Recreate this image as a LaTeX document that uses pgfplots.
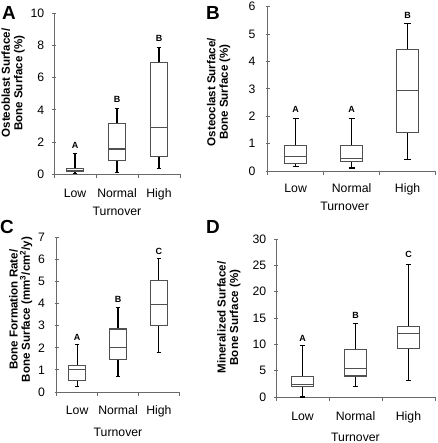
\documentclass[border=0pt]{standalone}
\usepackage{fontspec}
\setmainfont{Liberation Sans}
\usepackage{pgfplots}
\pgfplotsset{compat=1.18}
\usepgfplotslibrary{statistics}
\definecolor{boxgray}{RGB}{80,80,80}
\definecolor{axgray}{RGB}{105,105,105}
\tikzset{lett/.style={font=\bfseries\fontsize{9}{10}\selectfont, inner sep=0pt}}
\pgfplotsset{
  panel/.style={
    scale only axis,
    anchor=south west,
    axis lines*=left,
    axis line style={draw=axgray, line width=0.9bp, -},
    xtick pos=bottom, ytick pos=left,
    xmin=0, xmax=3, ymin=0,
    xtick={0,1,2,3}, xticklabels={},
    extra x ticks={0.5,1.5,2.5},
    extra x tick labels={Low,Normal,High},
    extra x tick style={major tick length=0pt},
    xtick align=outside, ytick align=center,
    major tick length=4bp,
    tick style={draw=axgray, line width=0.9bp},
    tick label style={font=\fontsize{12.3}{14}\selectfont},
    /pgf/number format/assume math mode=true,
    xlabel={Turnover},
    xlabel style={font=\fontsize{12.3}{14}\selectfont, anchor=base},
    ylabel style={font=\bfseries\fontsize{11.6}{12.5}\selectfont, align=center, anchor=center},
    yticklabel style={anchor=east, inner sep=0pt},
    boxplot/draw direction=y,
    boxplot/every box/.style={draw=boxgray, line width=1.05bp},
    boxplot/every whisker/.style={draw=black, line width=1.05bp},
    boxplot/every median/.style={draw=boxgray, line width=1.05bp},
    boxplot/box extend=0.4,
    boxplot/whisker extend=0.11,
    clip=false,
  },
}
\begin{document}
\begin{tikzpicture}
\useasboundingbox (0,0) rectangle (438bp,443bp);
% Panel A
\begin{axis}[panel, at={(54bp,268.7bp)}, width=126bp, height=161bp,
  ymax=10, ytick={0,2,4,6,8,10},
  yticklabel style={xshift=-7.5bp},
  xticklabel style={anchor=base, yshift=-23bp},
  xlabel style={at={(axis description cs:0.5,0)}, yshift=-41bp},
  ylabel={Osteoblast Surface/\\Bone Surface (\%)},
  ylabel style={at={(axis description cs:-0.325,0.567)}}]
\addplot[boxplot prepared={draw position=0.5, lower whisker=0.06, lower quartile=0.15, median=0.25, upper quartile=0.35, upper whisker=1.32}] coordinates {};
\addplot[boxplot prepared={draw position=1.5, lower whisker=0.1, lower quartile=0.85, median=1.57, upper quartile=3.15, upper whisker=4.1}] coordinates {};
\addplot[boxplot prepared={draw position=2.5, lower whisker=0.35, lower quartile=1.12, median=2.88, upper quartile=6.96, upper whisker=7.89}] coordinates {};
\node[lett] at (axis cs:0.5,1.8) {A};
\node[lett] at (axis cs:1.5,4.66) {B};
\node[lett] at (axis cs:2.5,8.43) {B};
\end{axis}
% Panel B
\begin{axis}[panel, at={(267.7bp,272bp)}, width=167.8bp, height=164.3bp,
  ymax=6, ytick={0,1,2,3,4,5,6},
  yticklabel style={xshift=-10bp},
  xticklabel style={anchor=base, yshift=-21.5bp},
  xlabel style={at={(axis description cs:0.458,0)}, yshift=-40bp},
  ylabel={Osteoclast Surface/\\Bone Surface (\%)},
  ylabel style={at={(axis description cs:-0.292,0.48)}}]
\addplot[boxplot prepared={draw position=0.5, lower whisker=0.18, lower quartile=0.26, median=0.52, upper quartile=0.94, upper whisker=1.92}] coordinates {};
\addplot[boxplot prepared={draw position=1.5, lower whisker=0.11, lower quartile=0.33, median=0.46, upper quartile=0.94, upper whisker=1.92}] coordinates {};
\addplot[boxplot prepared={draw position=2.5, lower whisker=0.43, lower quartile=1.42, median=2.94, upper quartile=4.43, upper whisker=5.4}] coordinates {};
\node[lett] at (axis cs:0.5,2.26) {A};
\node[lett] at (axis cs:1.5,2.26) {A};
\node[lett] at (axis cs:2.5,5.67) {B};
\end{axis}
% Panel C
\begin{axis}[panel, at={(56.7bp,51bp)}, width=122.6bp, height=154.7bp,
  ymax=7, ytick={0,1,2,3,4,5,6,7},
  yticklabel style={xshift=-9.5bp},
  xticklabel style={anchor=base, yshift=-22.5bp},
  xlabel style={at={(axis description cs:0.5,0)}, yshift=-44.5bp},
  ylabel={Bone Formation Rate/\\Bone Surface (mm\textsuperscript{3}/cm\textsuperscript{2}/y)},
  ylabel style={at={(axis description cs:-0.293,0.533)}}]
\addplot[boxplot prepared={draw position=0.5, lower whisker=0.27, lower quartile=0.53, median=1.01, upper quartile=1.22, upper whisker=2.17}] coordinates {};
\addplot[boxplot prepared={draw position=1.5, lower whisker=0.69, lower quartile=1.45, median=2.0, upper quartile=2.85, upper whisker=3.82}] coordinates {};
\addplot[boxplot prepared={draw position=2.5, lower whisker=1.78, lower quartile=3.03, median=3.97, upper quartile=5.05, upper whisker=6.03}] coordinates {};
\node[lett] at (axis cs:0.5,2.47) {A};
\node[lett] at (axis cs:1.5,4.19) {B};
\node[lett] at (axis cs:2.5,6.38) {C};
\end{axis}
% Panel D
\begin{axis}[panel, at={(276bp,46bp)}, width=159bp, height=158bp,
  ymax=30, ytick={0,5,10,15,20,25,30},
  yticklabel style={xshift=-7.5bp},
  xticklabel style={anchor=base, yshift=-23.5bp},
  xlabel style={at={(axis description cs:0.5,0)}, yshift=-44bp},
  ylabel={Mineralized Surface/\\Bone Surface (\%)},
  ylabel style={at={(axis description cs:-0.296,0.503)}}]
\addplot[boxplot prepared={draw position=0.5, lower whisker=0.0, lower quartile=2.05, median=2.3, upper quartile=3.85, upper whisker=9.75}] coordinates {};
\addplot[boxplot prepared={draw position=1.5, lower whisker=2.03, lower quartile=3.99, median=5.5, upper quartile=9.05, upper whisker=13.9}] coordinates {};
\addplot[boxplot prepared={draw position=2.5, lower whisker=3.16, lower quartile=9.24, median=12.0, upper quartile=13.35, upper whisker=25.2}] coordinates {};
\node[lett] at (axis cs:0.5,11.2) {A};
\node[lett] at (axis cs:1.5,15.4) {B};
\node[lett] at (axis cs:2.5,27) {C};
\end{axis}
\node[font=\bfseries\fontsize{19}{20}\selectfont] at (9bp,430bp) {A};
\node[font=\bfseries\fontsize{19}{20}\selectfont] at (213bp,430bp) {B};
\node[font=\bfseries\fontsize{19}{20}\selectfont] at (7bp,216bp) {C};
\node[font=\bfseries\fontsize{19}{20}\selectfont] at (213bp,216bp) {D};
\end{tikzpicture}
\end{document}
